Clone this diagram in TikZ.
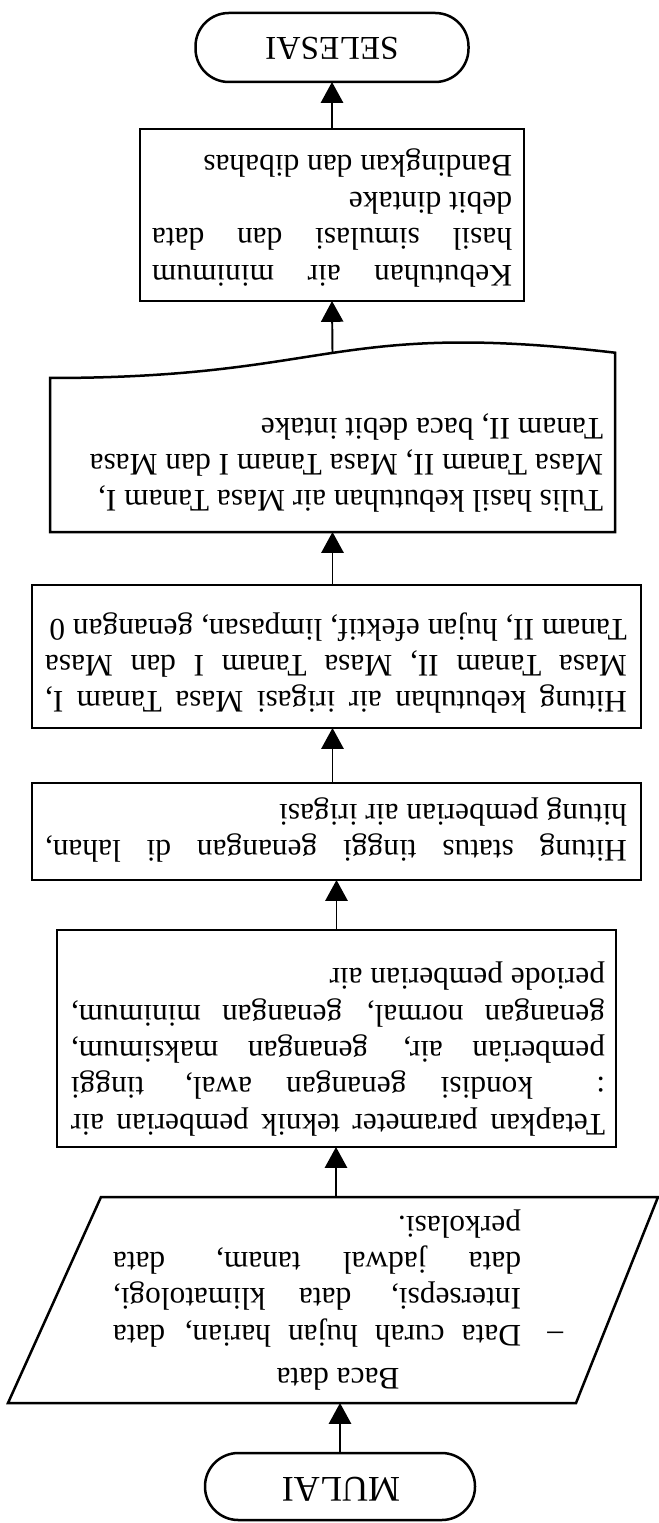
\documentclass[tikz,border=0pt]{standalone}
\usepackage{fontspec}
\setmainfont{Liberation Serif}
\usepackage{graphicx}
\usetikzlibrary{arrows.meta}
\newcommand{\jl}[1]{\makebox[\linewidth][s]{#1}\par}
\newcommand{\rl}[1]{\makebox[\linewidth][l]{#1}\par}
\begin{document}
\begin{tikzpicture}[x=0.36pt, y=-0.36pt,
  font=\fontsize{11.3pt}{13.1pt}\selectfont,
  box/.style={draw, line width=0.9pt, inner sep=0pt, outer sep=0pt},
  term/.style={box, rounded corners=12pt},
  ghost/.style={inner sep=0pt, outer sep=0pt},
  txt/.style={rotate=180, inner sep=0pt},
  big/.style={font=\fontsize{12pt}{14pt}\selectfont},
  bigger/.style={font=\fontsize{13pt}{15pt}\selectfont},
  arr/.style={line width=0.7pt, -{Triangle[width=8pt,length=7.5pt]}}]
\useasboundingbox (0,0) rectangle (659,1523);

% SELESAI
\node[term, minimum width=98.28pt, minimum height=24.84pt] (sel) at (332,47.5) {};
\node[txt, big] (selt) at (332,48) {SELESAI};

% Kebutuhan box
\node[box, minimum width=138.24pt, minimum height=61.92pt] (keb) at (332,215) {};
\node[txt] (kebt) at (332,218) {\parbox{129.6pt}{%
  \jl{Kebutuhan air minimum}%
  \jl{hasil simulasi dan data}%
  \rl{debit dintake}%
  \rl{Bandingkan dan dibahas}}};

% Document
\node[ghost, minimum width=203.4pt, minimum height=69.12pt] (doc) at (332.5,436) {};
\draw[line width=0.9pt] (50,532) -- (50,378) .. controls (332.5,378) and (332.5,319.5) .. (615,352.7) -- (615,532) -- cycle;
\coordinate (doctop) at (332.5,352.8);
\node[txt] (doct) at (338,463) {\parbox{190.8pt}{%
  \rl{Tulis hasil kebutuhan air Masa Tanam I,}%
  \rl{Masa Tanam II, Masa Tanam I dan Masa}%
  \rl{Tanam II, baca debit intake}}};

% Hitung kebutuhan
\node[box, minimum width=219.24pt, minimum height=51.48pt] (hk) at (336.5,656.5) {};
\node[txt] (hkt) at (336,663) {\parbox{209.5pt}{%
  \jl{Hitung kebutuhan air irigasi Masa Tanam I,}%
  \jl{Masa Tanam II, Masa Tanam I dan Masa}%
  \rl{Tanam II, hujan efektif, limpasan, genangan 0}}};

% Hitung status
\node[box, minimum width=219.24pt, minimum height=34.92pt] (hs) at (336.5,831.5) {};
\node[txt] (hst) at (336,830) {\parbox{209.5pt}{%
  \jl{Hitung status tinggi genangan di lahan,}%
  \rl{hitung pemberian air irigasi}}};

% Tetapkan
\node[box, minimum width=201.24pt, minimum height=78.12pt] (tp) at (336.5,1038.5) {};
\node[txt] (tpt) at (338,1049) {\parbox{192.24pt}{%
  \jl{Tetapkan parameter teknik pemberian air}%
  \jl{: kondisi genangan awal, tinggi}%
  \jl{pemberian air, genangan maksimum,}%
  \jl{genangan normal, genangan minimum,}%
  \rl{periode pemberian air}}};

% Parallelogram (input)
\node[ghost, minimum width=10pt, minimum height=74.16pt] (para) at (336,1300) {};
\draw[line width=0.9pt] (101,1197) -- (658,1197) -- (576,1403) -- (8,1403) -- cycle;
\node[txt] (parat) at (338,1300) {\parbox{162pt}{%
  \makebox[\linewidth][c]{Baca data}\par\vspace{2.5pt}%
  \noindent\makebox[6.12pt][l]{–}\hspace{9pt}\makebox[146.88pt][s]{Data curah hujan harian, data}\par
  \noindent\hspace*{15.12pt}\makebox[146.88pt][s]{Intersepsi, data klimatologi,}\par
  \noindent\hspace*{15.12pt}\makebox[146.88pt][s]{data jadwal tanam, data}\par
  \noindent\hspace*{15.12pt}\makebox[146.88pt][l]{perkolasi.}\par}};

% MULAI
\node[term, minimum width=97.2pt, minimum height=24.12pt] (mul) at (340,1486.5) {};
\node[txt, bigger] (mult) at (341,1489) {MULAI};

% Connectors
\draw[arr] (keb.north) -- (sel.south);
\draw[arr] (doctop) -- (keb.south);
\draw[arr] (hk.north -| doc.south) -- (doc.south);
\draw[arr] (hs.north -| doc.south) -- (hk.south -| doc.south);
\draw[arr] (tp.north) -- (tp.north |- hs.south);
\draw[arr] (para.north) -- (para.north |- tp.south);
\draw[arr] (mul.north) -- (mul.north |- para.south);
\end{tikzpicture}
\end{document}
